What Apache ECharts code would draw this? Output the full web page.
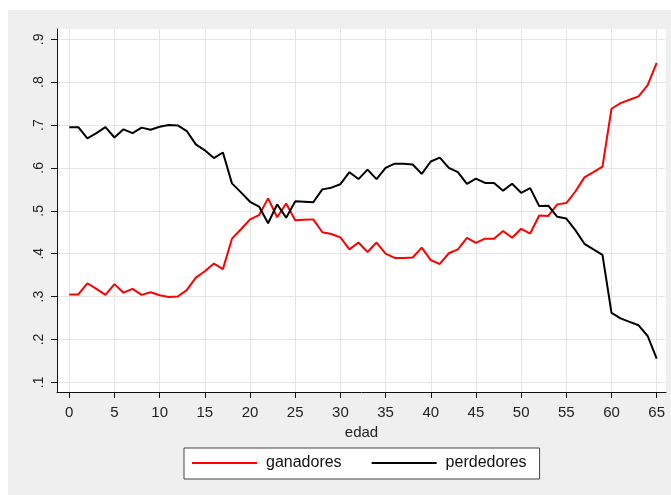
<!DOCTYPE html>
<html>
<head>
<meta charset="utf-8">
<script src="https://cdn.jsdelivr.net/npm/echarts@6/dist/echarts.min.js"></script>
<style>
  html, body { margin: 0; padding: 0; background: #ffffff; }
  #chart { width: 671px; height: 495px; }
</style>
</head>
<body>
<div id="chart"></div>
<script>
// Age in years
const edad = [
  0, 1, 2, 3, 4, 5, 6, 7, 8, 9,
  10, 11, 12, 13, 14, 15, 16, 17, 18, 19,
  20, 21, 22, 23, 24, 25, 26, 27, 28, 29,
  30, 31, 32, 33, 34, 35, 36, 37, 38, 39,
  40, 41, 42, 43, 44, 45, 46, 47, 48, 49,
  50, 51, 52, 53, 54, 55, 56, 57, 58, 59,
  60, 61, 62, 63, 64, 65
];

// Share of winners by age
const ganadores = [
  0.305, 0.305, 0.331, 0.318, 0.304, 0.329, 0.309, 0.318, 0.304, 0.310,
  0.303, 0.299, 0.300, 0.315, 0.344, 0.359, 0.377, 0.364, 0.435, 0.457,
  0.480, 0.490, 0.529, 0.485, 0.517, 0.478, 0.479, 0.480, 0.450, 0.446,
  0.438, 0.410, 0.426, 0.404, 0.426, 0.400, 0.390, 0.390, 0.391, 0.414,
  0.385, 0.376, 0.401, 0.410, 0.437, 0.425, 0.435, 0.435, 0.453, 0.437,
  0.458, 0.447, 0.489, 0.488, 0.515, 0.518, 0.545, 0.578, 0.590, 0.603,
  0.738, 0.751, 0.759, 0.767, 0.793, 0.845
];

// Share of losers by age
const perdedores = [
  0.695, 0.695, 0.669, 0.681, 0.695, 0.671, 0.690, 0.681, 0.694, 0.689,
  0.696, 0.700, 0.699, 0.686, 0.655, 0.641, 0.623, 0.636, 0.564, 0.543,
  0.521, 0.510, 0.471, 0.515, 0.484, 0.522, 0.521, 0.520, 0.550, 0.554,
  0.562, 0.590, 0.574, 0.596, 0.574, 0.600, 0.610, 0.610, 0.608, 0.586,
  0.615, 0.624, 0.600, 0.590, 0.563, 0.575, 0.565, 0.565, 0.547, 0.563,
  0.542, 0.553, 0.511, 0.512, 0.486, 0.482, 0.455, 0.423, 0.410, 0.397,
  0.262, 0.249, 0.241, 0.233, 0.208, 0.155
];

// Tick positions
const xTicks = [0, 5, 10, 15, 20, 25, 30, 35, 40, 45, 50, 55, 60, 65];
const yTicks = [0.1, 0.2, 0.3, 0.4, 0.5, 0.6, 0.7, 0.8, 0.9];

const pairs = (ys) => edad.map((x, i) => [x, ys[i]]);
const fmtY = (v) => v.toFixed(1).replace(/^0/, '');

const FONT = '"Liberation Sans", Arial, sans-serif';
const gridLine = { show: true, lineStyle: { color: '#e6e6e6', width: 1 } };

const chart = echarts.init(document.getElementById('chart'), null, { renderer: 'canvas' });

chart.setOption({
  animation: false,
  backgroundColor: '#ffffff',
  graphic: [
    {
      type: 'rect',
      z: -10,
      shape: { x: 8, y: 10, width: 663, height: 485 },
      style: { fill: '#efefef' }
    },
    {
      type: 'rect',
      z: -9,
      shape: { x: 57, y: 29, width: 609, height: 363 },
      style: { fill: '#ffffff' }
    }
  ],
  grid: { left: 57, right: 5, top: 29, bottom: 103, containLabel: false },
  xAxis: {
    type: 'value',
    min: -1.36,
    max: 66.03,
    name: 'edad',
    nameLocation: 'middle',
    nameGap: 31,
    nameTextStyle: { fontFamily: FONT, fontSize: 15, color: '#222' },
    axisLine: { show: true, onZero: false, lineStyle: { color: '#111', width: 1 } },
    axisTick: { show: true, length: 6, customValues: xTicks, lineStyle: { color: '#111' } },
    axisLabel: {
      customValues: xTicks,
      margin: 13,
      fontFamily: FONT,
      fontSize: 15,
      color: '#222'
    },
    splitLine: gridLine
  },
  yAxis: {
    type: 'value',
    min: 0.0774,
    max: 0.924,
    axisLine: { show: true, onZero: false, lineStyle: { color: '#111', width: 1 } },
    axisTick: { show: true, length: 6, customValues: yTicks, lineStyle: { color: '#111' } },
    axisLabel: {
      customValues: yTicks,
      rotate: 90,
      margin: 11,
      fontFamily: FONT,
      fontSize: 14,
      color: '#222',
      formatter: fmtY
    },
    splitLine: gridLine
  },
  legend: {
    left: 184,
    top: 448,
    orient: 'horizontal',
    itemWidth: 65,
    itemHeight: 2,
    itemGap: 30,
    padding: [7, 13, 8, 8],
    backgroundColor: '#ffffff',
    borderColor: '#444',
    borderWidth: 1,
    borderRadius: 0,
    textStyle: { fontFamily: FONT, fontSize: 16, color: '#111', padding: [0, 0, 0, 4] },
    data: [
      { name: 'ganadores', icon: 'rect' },
      { name: 'perdedores', icon: 'rect' }
    ]
  },
  series: [
    {
      name: 'ganadores',
      type: 'line',
      data: pairs(ganadores),
      showSymbol: false,
      symbol: 'none',
      color: '#ff0000',
      lineStyle: { color: '#ff0000', width: 2 }
    },
    {
      name: 'perdedores',
      type: 'line',
      data: pairs(perdedores),
      showSymbol: false,
      symbol: 'none',
      color: '#000000',
      lineStyle: { color: '#000000', width: 2 }
    }
  ]
});
</script>
</body>
</html>
